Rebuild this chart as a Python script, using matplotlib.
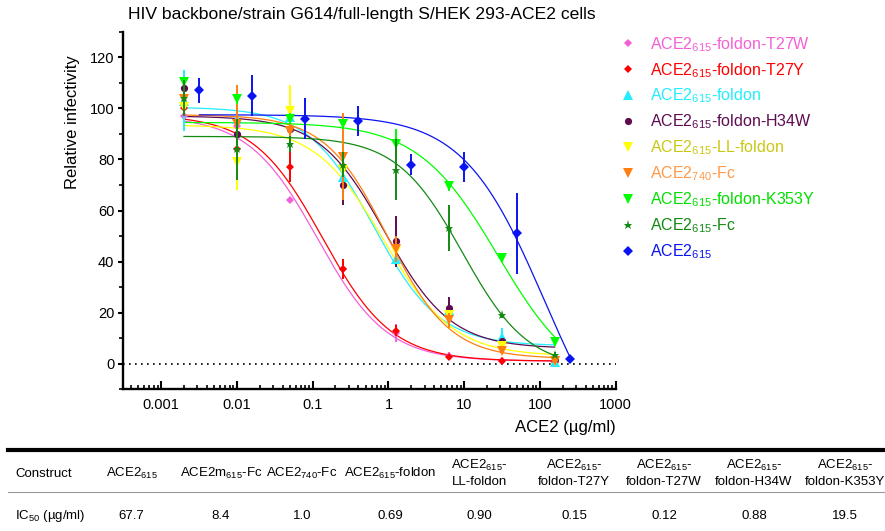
import numpy as np
import matplotlib
matplotlib.use("Agg")
import matplotlib.pyplot as plt
from matplotlib.lines import Line2D
from matplotlib.ticker import FixedLocator, FixedFormatter, LogLocator, MultipleLocator, NullFormatter

plt.rcParams['font.family'] = ['Liberation Sans', 'DejaVu Sans']
plt.rcParams['mathtext.fontset'] = 'custom'
plt.rcParams['mathtext.rm'] = 'Liberation Sans'
plt.rcParams['mathtext.it'] = 'Liberation Sans:italic'
plt.rcParams['mathtext.bf'] = 'Liberation Sans:bold'

# ---------------- data ----------------
conc = [0.002, 0.01, 0.05, 0.25, 1.25, 6.25, 31.25, 156.25]
conc_blue = [0.0032, 0.016, 0.08, 0.4, 2, 10, 50, 250]

labels = [
    r'ACE2$_{\mathregular{615}}$-foldon-T27W',
    r'ACE2$_{\mathregular{615}}$-foldon-T27Y',
    r'ACE2$_{\mathregular{615}}$-foldon',
    r'ACE2$_{\mathregular{615}}$-foldon-H34W',
    r'ACE2$_{\mathregular{615}}$-LL-foldon',
    r'ACE2$_{\mathregular{740}}$-Fc',
    r'ACE2$_{\mathregular{615}}$-foldon-K353Y',
    r'ACE2$_{\mathregular{615}}$-Fc',
    r'ACE2$_{\mathregular{615}}$',
]

t27w_mean = [97, 93, 64, 37, 12, 3, 1, 0.5]
t27w_err = [3, 2, 0, 3, 3.5, 1.5, 0.5, 0.5]
t27y_mean = [100, 84, 77, 37, 13, 2.5, 1, 0.5]
t27y_err = [3, 10, 6, 4, 2, 1, 0.5, 0.5]
foldon_mean = [103, 96, 96.5, 73, 41, 21, 10.5, 0.5]
foldon_err = [12, 3, 4, 4, 3, 3, 3.5, 1.5]
h34w_mean = [108, 90, 92, 70, 48, 22, 9, 2]
h34w_err = [4, 10, 2, 8, 10, 4, 1, 1]
ll_mean = [100.5, 79, 99, 76, 44, 19, 7, 1]
ll_err = [3, 11, 10, 3, 2, 2, 1, 1]
fc740_mean = [103.5, 94, 91, 81, 45, 17, 5, 1]
fc740_err = [2, 15, 3, 17, 5, 3, 1, 0.5]
k353y_mean = [110.5, 103.5, 96, 94, 86, 69.5, 41.5, 8.5]
k353y_err = [1.5, 2, 2, 2, 6, 2, 1.5, 1.5]
fc615_mean = [104, 84, 86, 78, 76, 53, 19, 3.5]
fc615_err = [7, 12, 3, 5, 12, 9, 1, 1]
ace2_mean = [107, 105, 96, 95, 78, 77, 51, 2]
ace2_err = [5, 8, 8, 6, 4, 6, 16, 0]

# fitted 4-parameter logistic curves (top, bottom, EC50, hill)
fit_top = [97, 97.5, 100.5, 97, 93.5, 97.5, 94.5, 89, 97.5]
fit_bottom = [1, 1, 7, 6, 3, 2, -10, -2, -48]
fit_ec50 = [0.116, 0.135, 0.64, 0.9, 0.872, 0.976, 28, 9.5, 114.7]
fit_hill = [0.95, 0.95, 1.0, 1.0, 0.95, 1.05, 0.82, 1.0, 0.81]

marker_colors = ['#f55fd6', '#ff0000', '#22eeff', '#5e0b50', '#ffff00', '#ff7f0e', '#00ff00', '#138a13', '#0a14f0']
text_colors = ['#f55fd6', '#ff0000', '#22eeff', '#5e0b50', '#c8c814', '#ff9a4a', '#00e000', '#138a13', '#0a14f0']
markers = ['D', 'D', '^', 'o', 'v', 'v', 'v', '*', 'D']
msizes = [4.2, 4.2, 6.5, 5.2, 6.5, 6.5, 6.5, 6.5, 4.6]

means = [t27w_mean, t27y_mean, foldon_mean, h34w_mean, ll_mean, fc740_mean, k353y_mean, fc615_mean, ace2_mean]
errs = [t27w_err, t27y_err, foldon_err, h34w_err, ll_err, fc740_err, k353y_err, fc615_err, ace2_err]
xs = [conc] * 8 + [conc_blue]

table_constructs = [r'ACE2$_{\mathregular{615}}$', r'ACE2m$_{\mathregular{615}}$-Fc', r'ACE2$_{\mathregular{740}}$-Fc',
                    r'ACE2$_{\mathregular{615}}$-foldon', 'ACE2$_{\\mathregular{615}}$-\nLL-foldon',
                    'ACE2$_{\\mathregular{615}}$-\nfoldon-T27Y', 'ACE2$_{\\mathregular{615}}$-\nfoldon-T27W',
                    'ACE2$_{\\mathregular{615}}$-\nfoldon-H34W', 'ACE2$_{\\mathregular{615}}$-\nfoldon-K353Y']
table_ic50 = ['67.7', '8.4', '1.0', '0.69', '0.90', '0.15', '0.12', '0.88', '19.5']

# ---------------- figure ----------------
W, H = 885, 531
fig = plt.figure(figsize=(W / 100, H / 100), dpi=100)

def fx(px):
    return px / W

def fy(py):
    return 1 - py / H

ax = fig.add_axes([fx(123.3), fy(389.3), fx(615.7) - fx(123.3), fy(31.7) - fy(389.3)])
ax.set_xscale('log')
ax.set_xlim(10 ** -3.5, 1000)
ax.set_ylim(-10, 130)

for i in range(9):
    xx = np.array(xs[i], dtype=float)
    xc = np.logspace(np.log10(xx[0]), np.log10(xx[-1]), 300)
    t, b, c, h = fit_top[i], fit_bottom[i], fit_ec50[i], fit_hill[i]
    yc = b + (t - b) / (1 + (xc / c) ** h)
    ax.plot(xc, yc, color=marker_colors[i], lw=0.9, zorder=2)

for i in range(9):
    ax.errorbar(xs[i], means[i], yerr=errs[i], fmt=markers[i], color=marker_colors[i],
                ms=msizes[i], mew=0, elinewidth=1.4, capsize=5, capthick=1.4, zorder=3 + i * 0.1)

ax.axhline(0, color='black', lw=1.2, linestyle=(0, (1, 2.6)), zorder=1)

for s in ['top', 'right']:
    ax.spines[s].set_visible(False)
for s in ['left', 'bottom']:
    ax.spines[s].set_linewidth(1.7)

ax.xaxis.set_major_locator(FixedLocator([0.001, 0.01, 0.1, 1, 10, 100, 1000]))
ax.xaxis.set_major_formatter(FixedFormatter(['0.001', '0.01', '0.1', '1', '10', '100', '1000']))
ax.xaxis.set_minor_locator(LogLocator(base=10, subs=np.arange(2, 10), numticks=20))
ax.xaxis.set_minor_formatter(NullFormatter())
ax.set_yticks([0, 20, 40, 60, 80, 100, 120])
ax.yaxis.set_minor_locator(MultipleLocator(10))
ax.tick_params(axis='x', which='major', direction='in', length=5.5, width=1.5, labelsize=10.5, pad=6)
ax.tick_params(axis='x', which='minor', direction='in', length=3, width=1.2)
ax.tick_params(axis='y', which='major', direction='out', length=3.5, width=1.5, labelsize=10.5, pad=3)
ax.tick_params(axis='y', which='minor', direction='out', length=3, width=1.2)

ax.set_ylabel('Relative infectivity', fontsize=12, va='center')
ax.yaxis.set_label_coords(-0.103, 0.748)
ax.set_xlabel('ACE2 (\u00b5g/ml)', fontsize=12, ha='right', va='top')
ax.xaxis.set_label_coords(1.0, -0.085)

fig.text(fx(128), fy(14), 'HIV backbone/strain G614/full-length S/HEK 293-ACE2 cells',
         fontsize=12.6, ha='left', va='center')

handles = [Line2D([], [], linestyle='none', marker=markers[i], color=marker_colors[i],
                  ms=msizes[i], mew=0) for i in range(9)]
leg = ax.legend(handles, labels, loc='upper left', bbox_to_anchor=(fx(620), fy(35)),
                bbox_transform=fig.transFigure, frameon=False, fontsize=11.5,
                handlelength=1.0, handletextpad=0.9, labelspacing=0.45, borderpad=0, borderaxespad=0)
for txt, col in zip(leg.get_texts(), text_colors):
    txt.set_color(col)

# ---------------- table ----------------
fig.add_artist(Line2D([fx(8), fx(885)], [fy(450), fy(450)], transform=fig.transFigure,
                      color='black', lw=3))
fig.add_artist(Line2D([fx(8), fx(885)], [fy(491.5), fy(491.5)], transform=fig.transFigure,
                      color='#999999', lw=0.8))
col_x = [131.6, 221, 302, 390, 479, 574, 664, 754, 845]
fig.text(fx(15), fy(474), 'Construct', fontsize=9.5, ha='left', va='center')
fig.text(fx(15), fy(516), 'IC$_{\\mathregular{50}}$ (\u00b5g/ml)',
         fontsize=9.5, ha='left', va='center')
for cx, name, val in zip(col_x, table_constructs, table_ic50):
    fig.text(fx(cx), fy(473), name, fontsize=9.5, ha='center', va='center', multialignment='center',
             linespacing=1.3)
    fig.text(fx(cx), fy(516), val, fontsize=9.5, ha='center', va='center')

fig.savefig('out.png', dpi=100)
